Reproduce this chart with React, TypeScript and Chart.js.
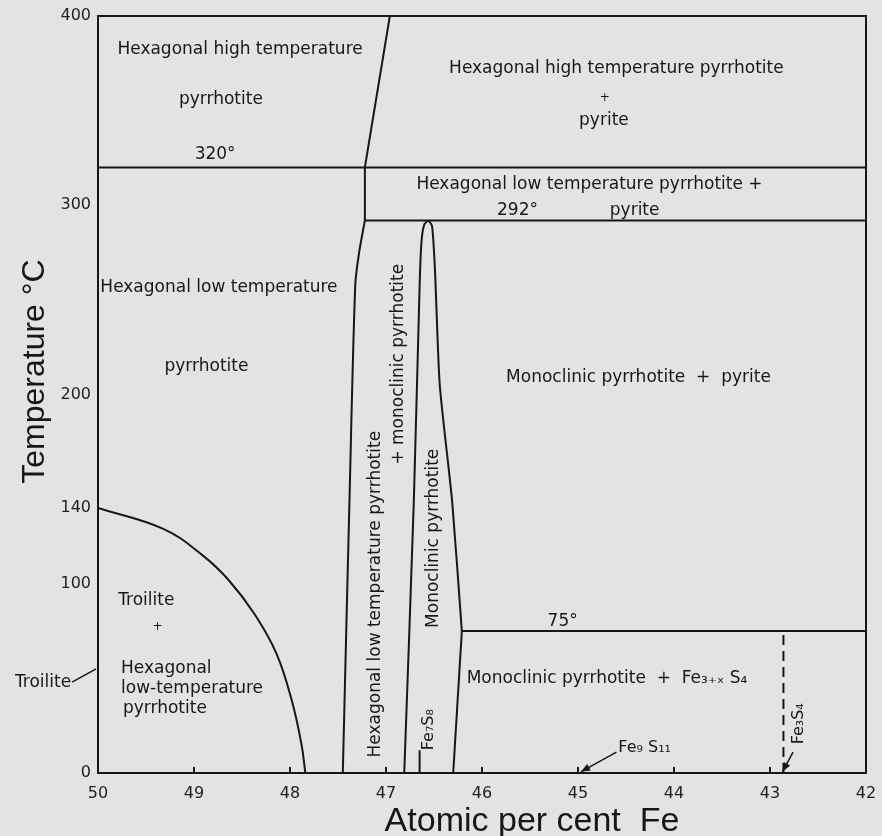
import React, { useEffect, useRef } from "react";
import { Chart, registerables } from "chart.js";

Chart.register(...registerables);

type P = { x: number; y: number };

// ---- axis ticks ----
const xTickValues = [50, 49, 48, 47, 46, 45, 44, 43, 42];
const yTickValues = [0, 100, 140, 200, 300, 400];

// ---- phase boundaries (x = atomic % Fe, y = temperature °C) ----
const line320: P[] = [{ x: 50, y: 320 }, { x: 42, y: 320 }];
const highTempBoundary: P[] = [{ x: 46.96, y: 400 }, { x: 47.22, y: 320 }, { x: 47.22, y: 292 }];
const line292: P[] = [{ x: 47.22, y: 292 }, { x: 42, y: 292 }];
const hexMonoBoundary: P[] = [
  { x: 47.22, y: 292 }, { x: 47.28, y: 275 }, { x: 47.32, y: 258 }, { x: 47.38, y: 145 }, { x: 47.45, y: 0 },
];
const monoclinicLeft: P[] = [
  { x: 46.81, y: 0 }, { x: 46.71, y: 144 }, { x: 46.65, y: 257 }, { x: 46.63, y: 281 }, { x: 46.6, y: 290 }, { x: 46.555, y: 292 },
];
const monoclinicRight: P[] = [
  { x: 46.555, y: 292 }, { x: 46.52, y: 289 }, { x: 46.49, y: 266 }, { x: 46.44, y: 205 }, { x: 46.31, y: 143 }, { x: 46.21, y: 75 },
];
const monoclinicRightLow: P[] = [{ x: 46.21, y: 75 }, { x: 46.3, y: 0 }];
const troiliteCurve: P[] = [
  { x: 50, y: 140 }, { x: 49.32, y: 129 }, { x: 48.91, y: 115 }, { x: 48.64, y: 102 }, { x: 48.37, y: 84 },
  { x: 48.14, y: 63 }, { x: 47.98, y: 38 }, { x: 47.88, y: 15 }, { x: 47.84, y: 0 },
];
const line75: P[] = [{ x: 46.21, y: 75 }, { x: 42, y: 75 }];
const fe3s4Dashed: P[] = [{ x: 42.86, y: 0 }, { x: 42.86, y: 75 }];
const fe7s8Leader: P[] = [{ x: 46.65, y: 0 }, { x: 46.65, y: 12 }];
const troiliteLeader: P[] = [{ x: 50.27, y: 48 }, { x: 50.02, y: 55 }];
const fe9s11Arrow: P[] = [{ x: 44.6, y: 11 }, { x: 44.97, y: 0.6 }];
const fe3s4Arrow: P[] = [{ x: 42.76, y: 11 }, { x: 42.87, y: 0.6 }];

// ---- region labels ----
const labelTexts = [
  "Hexagonal high temperature", "pyrrhotite", "320°",
  "Hexagonal high temperature pyrrhotite", "+", "pyrite",
  "Hexagonal low temperature pyrrhotite +", "292°", "pyrite",
  "Hexagonal low temperature", "pyrrhotite", "Monoclinic pyrrhotite  +  pyrite",
  "Hexagonal low temperature pyrrhotite", "+ monoclinic pyrrhotite", "Monoclinic pyrrhotite", "Fe₇S₈",
  "Troilite", "+", "Hexagonal", "low-temperature", "pyrrhotite", "Troilite",
  "75°", "Monoclinic pyrrhotite  +  Fe₃₊ₓ S₄", "Fe₉ S₁₁", "Fe₃S₄",
];
const labelX = [
  48.52, 48.72, 48.78,
  44.6, 44.72, 44.73,
  44.88, 45.63, 44.41,
  48.74, 48.87, 44.37,
  47.11, 46.87, 46.5, 46.55,
  49.79, 49.38, 49.76, 49.76, 49.74, 50.28,
  45.16, 46.16, 44.58, 42.7,
];
const labelY = [
  382, 356, 327,
  372, 357, 345,
  311, 297, 297,
  256.5, 215, 209,
  94.5, 216, 124, 12,
  91, 77, 55, 44.5, 34, 48,
  80, 50, 13.5, 26,
];

// layout/style for each label: [rotated, align, size]
const labelStyle: [boolean, CanvasTextAlign, number][] = [
  [false, "center", 17], [false, "center", 17], [false, "center", 17],
  [false, "center", 17], [false, "center", 12], [false, "center", 17],
  [false, "center", 17], [false, "center", 17], [false, "center", 17],
  [false, "center", 17], [false, "center", 17], [false, "center", 17],
  [true, "center", 17], [true, "center", 17], [true, "center", 17], [true, "left", 16],
  [false, "left", 17], [false, "center", 12], [false, "left", 17], [false, "left", 17], [false, "left", 17], [false, "right", 17],
  [false, "center", 17], [false, "left", 17], [false, "left", 16], [true, "center", 16],
];

const INK = "#171717";
const FONT = '"DejaVu Sans", sans-serif';

const paperPlugin = {
  id: "paper",
  beforeDraw(chart: any) {
    const { ctx, width, height } = chart;
    ctx.save();
    ctx.fillStyle = "#e3e4e2";
    ctx.fillRect(0, 0, width, height);
    ctx.restore();
  },
};

const overlayPlugin = {
  id: "overlay",
  afterDatasetsDraw(chart: any) {
    const { ctx, chartArea, scales } = chart;
    const { left, right, top, bottom } = chartArea;
    const xs = scales.x;
    const ys = scales.y;
    ctx.save();
    ctx.strokeStyle = INK;
    ctx.fillStyle = INK;
    ctx.lineWidth = 2;
    ctx.beginPath();
    ctx.rect(left, top, right - left, bottom - top);
    ctx.stroke();
    // inward tick marks on the x axis
    ctx.beginPath();
    xTickValues.slice(1, -1).forEach((v) => {
      const px = xs.getPixelForValue(v);
      ctx.moveTo(px, bottom);
      ctx.lineTo(px, bottom - 6);
    });
    ctx.stroke();
    // arrowheads
    chart.data.datasets.forEach((ds: any, i: number) => {
      if (!ds.arrow) return;
      const pts = chart.getDatasetMeta(i).data;
      const a = pts[pts.length - 2];
      const b = pts[pts.length - 1];
      const ang = Math.atan2(b.y - a.y, b.x - a.x);
      const len = 10;
      ctx.beginPath();
      ctx.moveTo(b.x, b.y);
      ctx.lineTo(b.x - len * Math.cos(ang - 0.38), b.y - len * Math.sin(ang - 0.38));
      ctx.lineTo(b.x - len * Math.cos(ang + 0.38), b.y - len * Math.sin(ang + 0.38));
      ctx.closePath();
      ctx.fill();
    });
    // region labels
    labelTexts.forEach((t, i) => {
      const [rot, align, size] = labelStyle[i];
      const px = xs.getPixelForValue(labelX[i]);
      const py = ys.getPixelForValue(labelY[i]);
      ctx.save();
      ctx.translate(px, py);
      if (rot) ctx.rotate(-Math.PI / 2);
      ctx.font = `${size}px ${FONT}`;
      ctx.textAlign = align;
      ctx.textBaseline = "middle";
      ctx.fillText(t, 0, 0);
      ctx.restore();
    });
    // axis titles
    ctx.font = '32px "Liberation Sans", Arial, sans-serif';
    ctx.textAlign = "center";
    ctx.textBaseline = "middle";
    ctx.save();
    ctx.translate(left - 63, (top + bottom) / 2 - 23);
    ctx.rotate(-Math.PI / 2);
    ctx.fillText("Temperature °C", 0, 0);
    ctx.restore();
    ctx.font = '34px "Liberation Sans", Arial, sans-serif';
    ctx.fillText("Atomic per cent  Fe", (left + right) / 2 + 50, bottom + 49);
    ctx.restore();
  },
};

function lineDs(data: P[], extra: any = {}) {
  return {
    data,
    showLine: true,
    borderColor: INK,
    borderWidth: 2,
    pointRadius: 0,
    pointHoverRadius: 0,
    fill: false,
    tension: 0,
    ...extra,
  };
}

export default function App() {
  const ref = useRef<HTMLCanvasElement | null>(null);
  useEffect(() => {
    document.body.style.margin = "0";
    const canvas = ref.current;
    if (!canvas) return;
    const chart = new Chart(canvas, {
      type: "scatter",
      data: {
        datasets: [
          lineDs(line320),
          lineDs(highTempBoundary),
          lineDs(line292),
          lineDs(hexMonoBoundary, { tension: 0.3 }),
          lineDs(monoclinicLeft, { tension: 0.3 }),
          lineDs(monoclinicRight, { tension: 0.2 }),
          lineDs(monoclinicRightLow),
          lineDs(troiliteCurve, { tension: 0.4 }),
          lineDs(line75),
          lineDs(fe3s4Dashed, { borderDash: [10, 6] }),
          lineDs(fe7s8Leader),
          lineDs(troiliteLeader, { clip: false, borderWidth: 1.5 }),
          lineDs(fe9s11Arrow, { borderWidth: 1.5, arrow: true }),
          lineDs(fe3s4Arrow, { borderWidth: 1.5, arrow: true }),
        ] as any,
      },
      options: {
        responsive: false,
        animation: false,
        devicePixelRatio: 1,
        layout: { padding: { top: 16, right: 16, left: 0, bottom: 0 } },
        plugins: { legend: { display: false }, tooltip: { enabled: false } },
        events: [],
        scales: {
          x: {
            type: "linear",
            min: 42,
            max: 50,
            reverse: true,
            grid: { display: false, drawTicks: false },
            border: { display: false },
            afterBuildTicks: (s: any) => {
              s.ticks = xTickValues.map((v) => ({ value: v }));
            },
            afterFit: (s: any) => {
              s.height = 63;
              s.paddingLeft = 0;
              s.paddingRight = 0;
            },
            ticks: {
              padding: 11,
              color: "#1e1e1e",
              font: { family: FONT, size: 16 },
              maxRotation: 0,
              autoSkip: false,
            },
          },
          y: {
            type: "linear",
            min: 0,
            max: 400,
            grid: { display: false, drawTicks: false },
            border: { display: false },
            afterBuildTicks: (s: any) => {
              s.ticks = yTickValues.map((v) => ({ value: v }));
            },
            afterFit: (s: any) => {
              s.width = 98;
              s.paddingTop = 0;
              s.paddingBottom = 0;
            },
            ticks: {
              padding: 7,
              color: "#1e1e1e",
              font: { family: FONT, size: 16 },
              autoSkip: false,
            },
          },
        },
      } as any,
      plugins: [paperPlugin, overlayPlugin],
    });
    return () => chart.destroy();
  }, []);
  return (
    <div style={{ width: 882, height: 836 }}>
      <canvas ref={ref} width={882} height={836} style={{ display: "block" }} />
    </div>
  );
}
